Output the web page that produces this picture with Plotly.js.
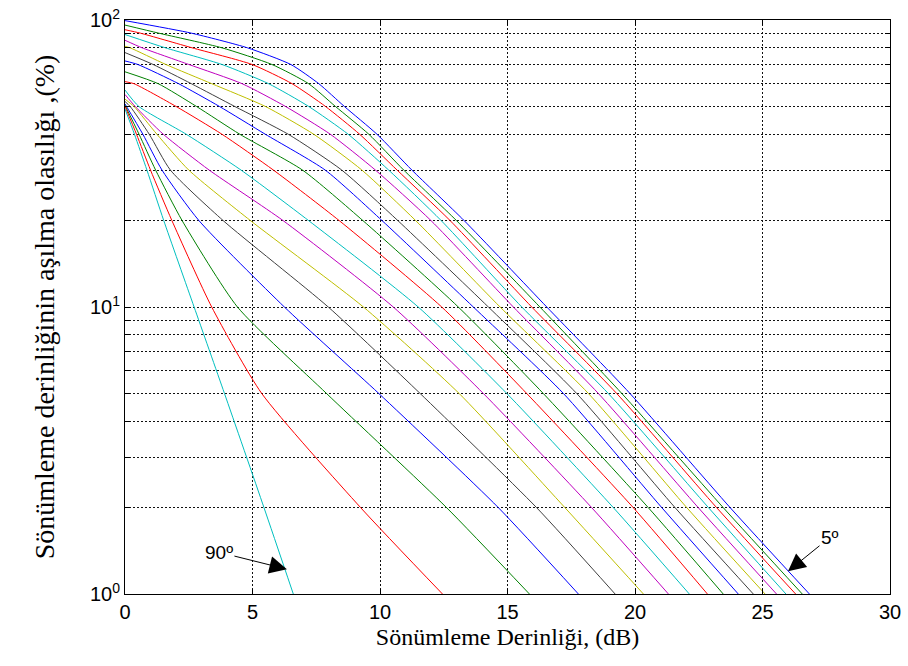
<!DOCTYPE html>
<html>
<head>
<meta charset="utf-8">
<script src="https://cdn.plot.ly/plotly-3.0.1.min.js"></script>
<style>html,body{margin:0;padding:0;background:#fff;}#chart{width:908px;height:666px;}</style>
</head>
<body>
<div id="chart"></div>
<script>
// Exceedance levels (%) at which each curve's fade depth (dB) was read
const levels = [90, 80, 70, 60, 50, 40, 30, 20, 10, 5, 2, 1];
// Elevation angles of the curves
const angles = [5, 10, 15, 20, 25, 30, 35, 40, 45, 50, 55, 60, 65, 70, 75, 80, 85, 90];
// Value (%) of each curve at 0 dB
const startPct = [99.5, 96, 92.5, 89, 85, 81, 77, 72, 66, 61, 57, 55, 53, 52, 51, 50.5, 50, 49];
// Fade depth (dB) where each curve crosses the levels above
const c5  = [2.6, 4.8, 6.5, 7.6, 8.6, 9.88, 11.25, 13.3, 16.54, 19.8, 23.73, 26.84];
const c10 = [1.32, 3.8, 5.76, 7.2, 8.25, 9.56, 10.93, 13.0, 16.27, 19.48, 23.46, 26.56];
const c15 = [0.6, 2.63, 4.98, 6.55, 7.86, 9.2, 10.67, 12.75, 15.95, 19.28, 23.2, 26.3];
const c20 = [null, 1.58, 3.8, 5.63, 7.2, 8.75, 10.34, 12.4, 15.56, 18.95, 22.88, 25.92];
const c25 = [null, 0.67, 2.5, 4.59, 6.29, 8.05, 9.82, 12.0, 15.23, 18.56, 22.48, 25.55];
const c30 = [null, 0.2, 1.6, 3.4, 5.5, 7.4, 9.29, 11.4, 14.71, 18.17, 22.03, 25.1];
const c35 = [null, null, 1.1, 2.6, 4.3, 6.4, 8.5, 10.7, 14.25, 17.71, 21.57, 24.64];
const c40 = [null, null, 0.5, 2.1, 3.7, 5.5, 7.85, 10.08, 13.66, 17.19, 21.05, 24.05];
const c45 = [null, null, null, 1.3, 2.8, 4.5, 6.96, 9.33, 13.07, 16.4, 20.52, 23.46];
const c50 = [null, null, null, 0.35, 2.0, 3.8, 5.82, 8.4, 12.42, 15.75, 19.93, 22.84];
const c55 = [null, null, null, null, 0.54, 2.4, 4.55, 7.2, 11.5, 14.97, 19.15, 22.13];
const c60 = [null, null, null, null, 0.4, 1.5, 3.3, 6.2, 10.52, 14.05, 18.3, 21.31];
const c65 = [null, null, null, null, 0.35, 1.25, 2.5, 4.92, 9.35, 13.1, 17.25, 20.33];
const c70 = [null, null, null, null, 0.2, 0.95, 1.78, 3.85, 7.97, 11.57, 16.14, 19.22];
const c75 = [null, null, null, null, null, 0.7, 1.45, 2.9, 6.25, 9.95, 14.64, 17.78];
const c80 = [null, null, null, null, null, 0.55, 1.2, 2.24, 4.41, 7.9, 12.61, 15.86];
const c85 = [null, null, null, null, null, 0.45, 1.0, 1.84, 3.4, 5.36, 9.24, 12.45];
const c90 = [null, null, null, null, null, 0.37, 0.86, 1.52, 2.71, 3.9, 5.45, 6.6];
const crossings = [c5, c10, c15, c20, c25, c30, c35, c40, c45, c50, c55, c60, c65, c70, c75, c80, c85, c90];

// y-axis tick values and labels
const yTickVals = [1,2,3,4,5,6,7,8,9,10,20,30,40,50,60,70,80,90,100];
const yTickText = ['10<sup>0</sup>',' ',' ',' ',' ',' ',' ',' ',' ','10<sup>1</sup>',' ',' ',' ',' ',' ',' ',' ',' ','10<sup>2</sup>'];
const xTickVals = [0, 5, 10, 15, 20, 25, 30];

// MATLAB default colour order b g r c m y k
const palette = ['#0000FF', '#008000', '#FF0000', '#00BFBF', '#BF00BF', '#BFBF00', '#404040'];

const traces = angles.map((a, i) => {
  const xs = [0], ys = [startPct[i]];
  crossings[i].forEach((x, j) => { if (x !== null) { xs.push(x); ys.push(levels[j]); } });
  return {
    x: xs, y: ys, type: 'scatter', mode: 'lines', name: a + 'º',
    line: {color: palette[i % 7], width: 1, shape: 'spline', smoothing: 0.6},
    showlegend: false, hoverinfo: 'skip'
  };
});

const sans = '"Liberation Sans", Arial, sans-serif';
const serif = '"Liberation Serif", "Times New Roman", serif';
const gridStyle = {gridcolor: '#111', gridwidth: 1, griddash: '2px,2px'};
const layout = {
  width: 908, height: 666,
  margin: {l: 125, r: 18, t: 20, b: 72, pad: 0},
  paper_bgcolor: '#fff', plot_bgcolor: '#fff',
  showlegend: false,
  font: {family: sans, size: 20, color: '#000'},
  xaxis: Object.assign({
    range: [0, 30], tickvals: xTickVals, ticks: 'inside', ticklen: 5, tickcolor: '#000',
    showline: true, linecolor: '#000', linewidth: 1, mirror: 'ticks', zeroline: false, showgrid: true,
    tickfont: {family: sans, size: 20},
    title: {text: 'Sönümleme Derinliği, (dB)', font: {family: serif, size: 24}, standoff: 6}
  }, gridStyle),
  yaxis: Object.assign({
    type: 'log', range: [0, 2], tickvals: yTickVals, ticktext: yTickText, ticks: 'inside', ticklen: 5, tickcolor: '#000',
    showline: true, linecolor: '#000', linewidth: 1, mirror: 'ticks', zeroline: false, showgrid: true,
    tickfont: {family: sans, size: 20},
    title: {text: 'Sönümleme derinliğinin aşılma olasılığı ,(%)', font: {family: serif, size: 28}, standoff: 27}
  }, gridStyle),
  annotations: [
    {x: 6.35, y: Math.log10(1.22), xref: 'x', yref: 'y', text: '90º', showarrow: true,
     ax: -68, ay: -17, arrowhead: 2, arrowsize: 3.5, arrowwidth: 1, arrowcolor: '#000', standoff: 0,
     font: {family: sans, size: 19, color: '#000'}},
    {x: 26.0, y: Math.log10(1.2), xref: 'x', yref: 'y', text: '5º', showarrow: true,
     ax: 42, ay: -34, arrowhead: 2, arrowsize: 3.5, arrowwidth: 1, arrowcolor: '#000', standoff: 0,
     font: {family: sans, size: 19, color: '#000'}}
  ]
};

Plotly.newPlot('chart', traces, layout, {staticPlot: true, displayModeBar: false});
</script>
</body>
</html>
